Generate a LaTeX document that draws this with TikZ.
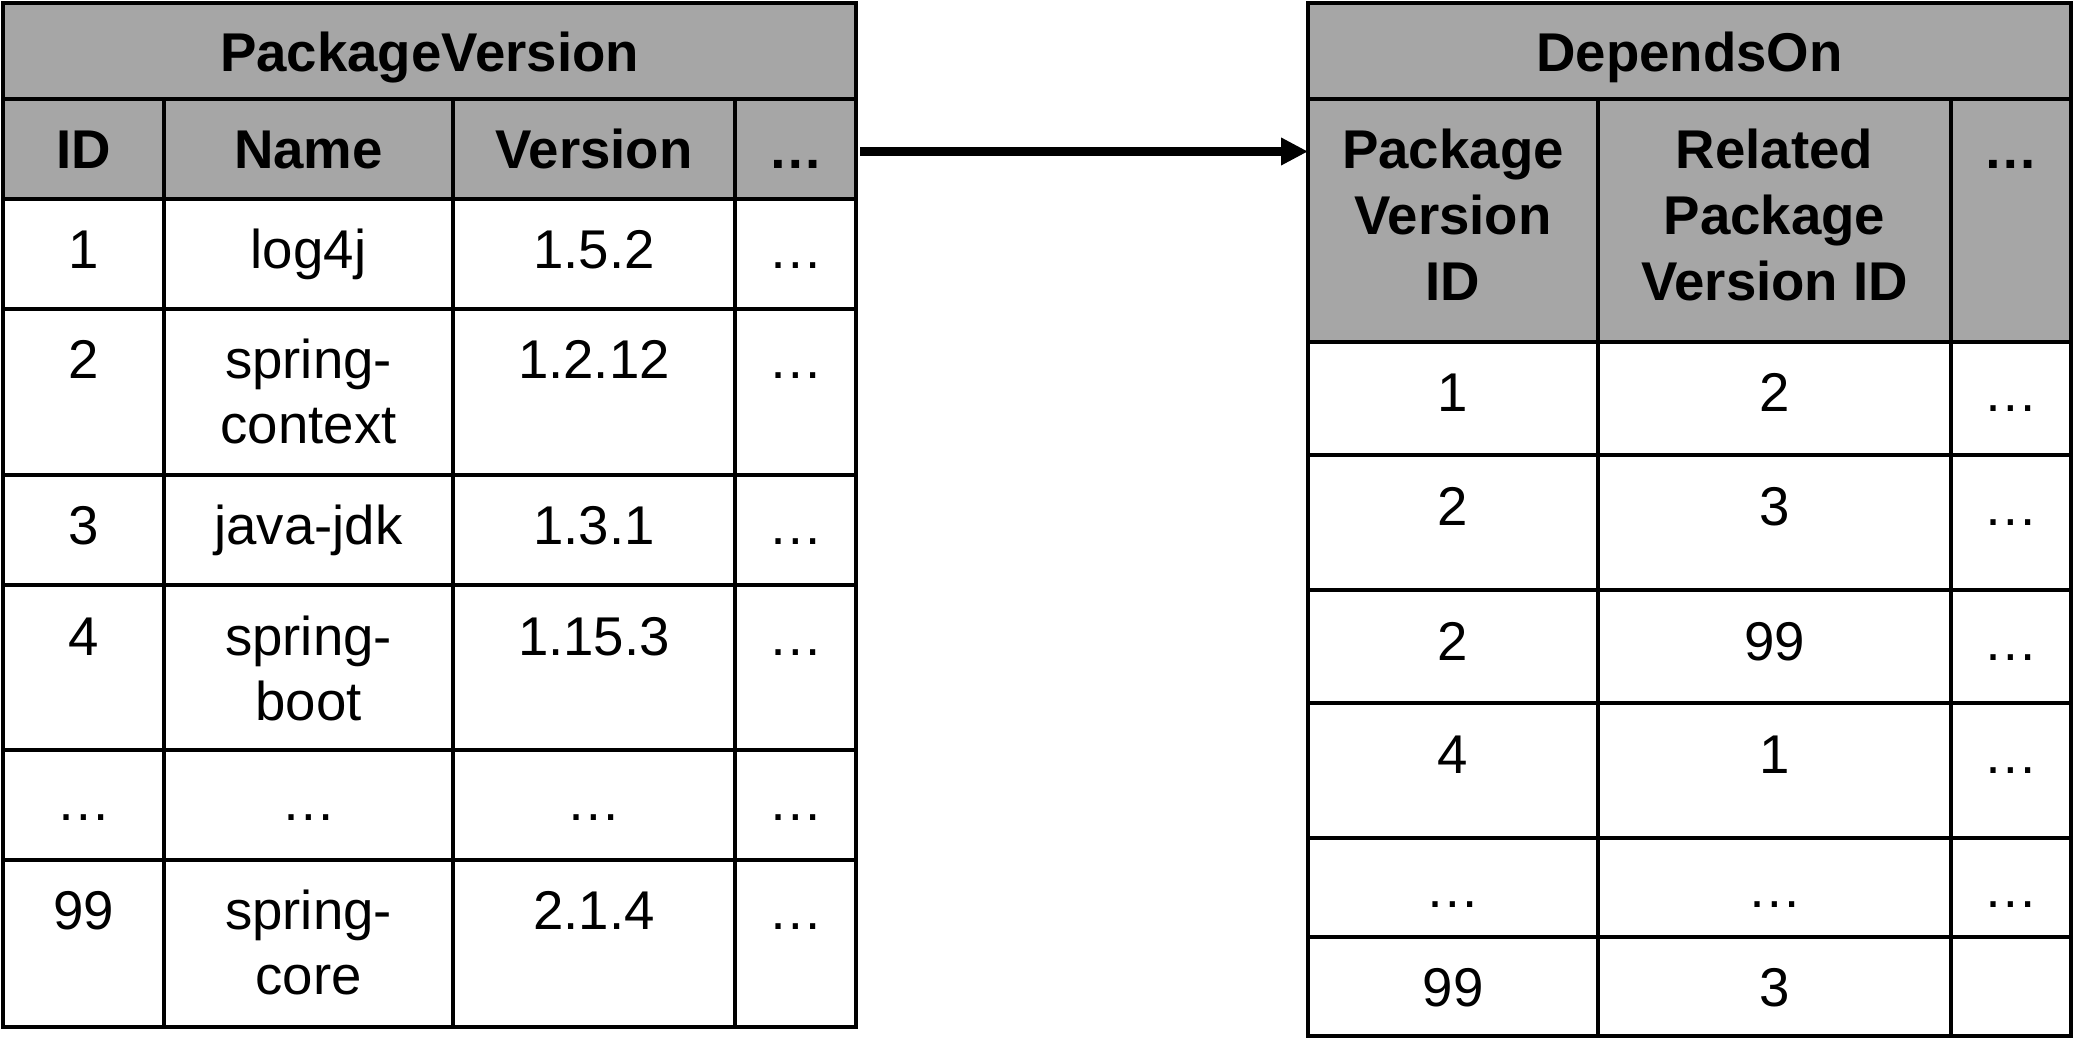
\documentclass[tikz,border=0pt]{standalone}
\usepackage{fontspec}
\setmainfont{Liberation Sans}
\usetikzlibrary{arrows.meta}
\definecolor{hdrgrey}{HTML}{A6A6A6}
\newcommand\tabcell[6]{%
  \pgfmathsetmacro\cellw{(#4-#2)*0.5}\pgfmathsetmacro\cellh{(#5-#3)*0.5}%
  \node[cellbox, fill=#6, minimum width=\cellw pt, minimum height=\cellh pt] (#1) at ({(#2+#4)/2},{(#3+#5)/2}) {};}
\newcommand\tabtext[5]{\node[#1] (#2) at (#3,#4) {#5};}
\begin{document}
\begin{tikzpicture}[x=0.5pt,y=-0.5pt,
  cellbox/.style={draw=black, line width=2pt, inner sep=0pt, outer sep=0pt},
  bodytxt/.style={anchor=base, inner sep=0pt, font=\fontsize{27.3}{31}\selectfont},
  headtxt/.style={anchor=base, inner sep=0pt, font=\fontsize{27.3}{31}\selectfont\bfseries},
  conn/.style={line width=4.5pt, -{Triangle[length=13.5pt, width=13pt]}}]
\useasboundingbox (0,0) rectangle (2078,1053);

% ---------- PackageVersion table ----------
\tabcell{lt}{3}{3}{856}{99}{hdrgrey}
\tabtext{headtxt}{ltt}{429.5}{72}{PackageVersion}
\tabcell{lh1}{3}{99}{164}{199}{hdrgrey}
\tabcell{lh2}{164}{99}{453}{199}{hdrgrey}
\tabcell{lh3}{453}{99}{735}{199}{hdrgrey}
\tabcell{lh4}{735}{99}{856}{199}{hdrgrey}
\tabtext{headtxt}{lh1t}{83.5}{169}{ID}
\tabtext{headtxt}{lh2t}{308.5}{169}{Name}
\tabtext{headtxt}{lh3t}{594}{169}{Version}
\tabtext{headtxt}{lh4t}{795.5}{169}{…}

% rows
\tabcell{la1}{3}{199}{164}{309}{white}
\tabcell{lb1}{164}{199}{453}{309}{white}
\tabcell{lc1}{453}{199}{735}{309}{white}
\tabcell{ld1}{735}{199}{856}{309}{white}
\tabtext{bodytxt}{la1t}{83.5}{269}{1}
\tabtext{bodytxt}{lb1t}{308.5}{269}{log4j}
\tabtext{bodytxt}{lc1t}{594}{269}{1.5.2}
\tabtext{bodytxt}{ld1t}{795.5}{269}{…}

\tabcell{la2}{3}{309}{164}{475}{white}
\tabcell{lb2}{164}{309}{453}{475}{white}
\tabcell{lc2}{453}{309}{735}{475}{white}
\tabcell{ld2}{735}{309}{856}{475}{white}
\tabtext{bodytxt}{la2t}{83.5}{379}{2}
\tabtext{bodytxt}{lb2t}{308.5}{379}{spring-}
\tabtext{bodytxt}{lb2u}{308.5}{444}{context}
\tabtext{bodytxt}{lc2t}{594}{379}{1.2.12}
\tabtext{bodytxt}{ld2t}{795.5}{379}{…}

\tabcell{la3}{3}{475}{164}{585}{white}
\tabcell{lb3}{164}{475}{453}{585}{white}
\tabcell{lc3}{453}{475}{735}{585}{white}
\tabcell{ld3}{735}{475}{856}{585}{white}
\tabtext{bodytxt}{la3t}{83.5}{545}{3}
\tabtext{bodytxt}{lb3t}{308.5}{545}{java-jdk}
\tabtext{bodytxt}{lc3t}{594}{545}{1.3.1}
\tabtext{bodytxt}{ld3t}{795.5}{545}{…}

\tabcell{la4}{3}{585}{164}{750}{white}
\tabcell{lb4}{164}{585}{453}{750}{white}
\tabcell{lc4}{453}{585}{735}{750}{white}
\tabcell{ld4}{735}{585}{856}{750}{white}
\tabtext{bodytxt}{la4t}{83.5}{655}{4}
\tabtext{bodytxt}{lb4t}{308.5}{655}{spring-}
\tabtext{bodytxt}{lb4u}{308.5}{720}{boot}
\tabtext{bodytxt}{lc4t}{594}{655}{1.15.3}
\tabtext{bodytxt}{ld4t}{795.5}{655}{…}

\tabcell{la5}{3}{750}{164}{860}{white}
\tabcell{lb5}{164}{750}{453}{860}{white}
\tabcell{lc5}{453}{750}{735}{860}{white}
\tabcell{ld5}{735}{750}{856}{860}{white}
\tabtext{bodytxt}{la5t}{83.5}{820}{…}
\tabtext{bodytxt}{lb5t}{308.5}{820}{…}
\tabtext{bodytxt}{lc5t}{594}{820}{…}
\tabtext{bodytxt}{ld5t}{795.5}{820}{…}

\tabcell{la6}{3}{860}{164}{1027}{white}
\tabcell{lb6}{164}{860}{453}{1027}{white}
\tabcell{lc6}{453}{860}{735}{1027}{white}
\tabcell{ld6}{735}{860}{856}{1027}{white}
\tabtext{bodytxt}{la6t}{83.5}{929}{99}
\tabtext{bodytxt}{lb6t}{308.5}{929}{spring-}
\tabtext{bodytxt}{lb6u}{308.5}{994}{core}
\tabtext{bodytxt}{lc6t}{594}{929}{2.1.4}
\tabtext{bodytxt}{ld6t}{795.5}{929}{…}

% ---------- DependsOn table ----------
\tabcell{rt}{1308}{3}{2071}{99}{hdrgrey}
\tabtext{headtxt}{rtt}{1689.5}{72}{DependsOn}
\tabcell{rh1}{1308}{99}{1598}{342}{hdrgrey}
\tabcell{rh2}{1598}{99}{1951}{342}{hdrgrey}
\tabcell{rh3}{1951}{99}{2071}{342}{hdrgrey}
\tabtext{headtxt}{rh1t}{1453}{169}{Package}
\tabtext{headtxt}{rh1u}{1453}{235}{Version}
\tabtext{headtxt}{rh1v}{1453}{301}{ID}
\tabtext{headtxt}{rh2t}{1774.5}{169}{Related}
\tabtext{headtxt}{rh2u}{1774.5}{235}{Package}
\tabtext{headtxt}{rh2v}{1774.5}{301}{Version ID}
\tabtext{headtxt}{rh3t}{2011}{169}{…}

\tabcell{ra1}{1308}{342}{1598}{455}{white}
\tabcell{rb1}{1598}{342}{1951}{455}{white}
\tabcell{rc1}{1951}{342}{2071}{455}{white}
\tabtext{bodytxt}{ra1t}{1453}{412}{1}
\tabtext{bodytxt}{rb1t}{1774.5}{412}{2}
\tabtext{bodytxt}{rc1t}{2011}{412}{…}

\tabcell{ra2}{1308}{455}{1598}{590}{white}
\tabcell{rb2}{1598}{455}{1951}{590}{white}
\tabcell{rc2}{1951}{455}{2071}{590}{white}
\tabtext{bodytxt}{ra2t}{1453}{525}{2}
\tabtext{bodytxt}{rb2t}{1774.5}{525}{3}
\tabtext{bodytxt}{rc2t}{2011}{525}{…}

\tabcell{ra3}{1308}{590}{1598}{703}{white}
\tabcell{rb3}{1598}{590}{1951}{703}{white}
\tabcell{rc3}{1951}{590}{2071}{703}{white}
\tabtext{bodytxt}{ra3t}{1453}{660}{2}
\tabtext{bodytxt}{rb3t}{1774.5}{660}{99}
\tabtext{bodytxt}{rc3t}{2011}{660}{…}

\tabcell{ra4}{1308}{703}{1598}{838}{white}
\tabcell{rb4}{1598}{703}{1951}{838}{white}
\tabcell{rc4}{1951}{703}{2071}{838}{white}
\tabtext{bodytxt}{ra4t}{1453}{773}{4}
\tabtext{bodytxt}{rb4t}{1774.5}{773}{1}
\tabtext{bodytxt}{rc4t}{2011}{773}{…}

\tabcell{ra5}{1308}{838}{1598}{937}{white}
\tabcell{rb5}{1598}{838}{1951}{937}{white}
\tabcell{rc5}{1951}{838}{2071}{937}{white}
\tabtext{bodytxt}{ra5t}{1453}{907}{…}
\tabtext{bodytxt}{rb5t}{1774.5}{907}{…}
\tabtext{bodytxt}{rc5t}{2011}{907}{…}

\tabcell{ra6}{1308}{937}{1598}{1036}{white}
\tabcell{rb6}{1598}{937}{1951}{1036}{white}
\tabcell{rc6}{1951}{937}{2071}{1036}{white}
\tabtext{bodytxt}{ra6t}{1453}{1006}{99}
\tabtext{bodytxt}{rb6t}{1774.5}{1006}{3}

% ---------- connector ----------
\draw[conn] ([xshift=2pt,yshift=-1.25pt]lh4.east) -- ([yshift=-1.25pt]lh4.east -| rh1.west);
\end{tikzpicture}
\end{document}
